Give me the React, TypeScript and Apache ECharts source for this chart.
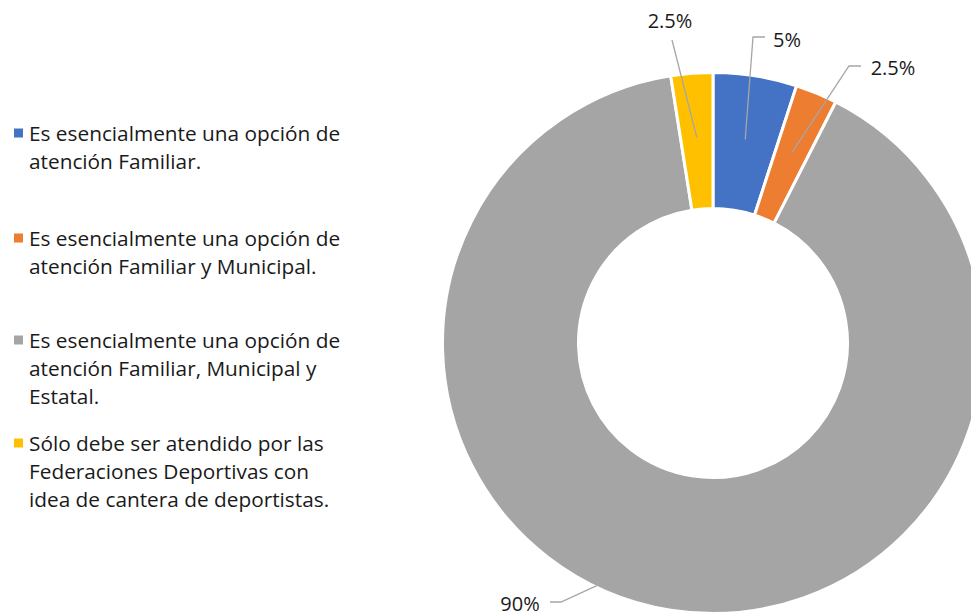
import React, { useEffect, useRef } from "react";
import * as echarts from "echarts";

// ---- data ----
const categories = [
  "Es esencialmente una opción de atención Familiar.",
  "Es esencialmente una opción de atención Familiar y Municipal.",
  "Es esencialmente una opción de atención Familiar, Municipal y Estatal.",
  "Sólo debe ser atendido por las Federaciones Deportivas con idea de cantera de deportistas.",
];
const values = [5, 2.5, 90, 2.5];
const valueLabels = ["5%", "2.5%", "90%", "2.5%"];
const legendLines = [
  ["Es esencialmente una opción de", "atención Familiar."],
  ["Es esencialmente una opción de", "atención Familiar y Municipal."],
  ["Es esencialmente una opción de", "atención Familiar, Municipal y", "Estatal."],
  ["Sólo debe ser atendido por las", "Federaciones Deportivas con", "idea de cantera de deportistas."],
];

// ---- styles / layout ----
const colors = ["#4472C4", "#ED7D31", "#A5A5A5", "#FFC000"];
const FONT = "Open Sans";
const CENTER = [713, 343];
const R_OUT = 270.5;
const R_IN = 134.5;
const legendTops = [119, 224, 326, 429];
const labelPos = [
  [787, 39],
  [893, 67],
  [520, 603],
  [670, 20],
];
const lineBend = [
  [753, 37],
  [849, 66],
  [561, 602],
  [672, 40],
];
const lineEnd = [
  [765, 37],
  [861, 66],
  [550, 602],
  [672, 40],
];
const lineStartR = [206, 206, 269, 206];
const lineStartAngleOverride: (number | null)[] = [null, null, 205.6, null];

function midAngleDeg(i: number): number {
  const total = values.reduce((a, b) => a + b, 0);
  let cum = 0;
  for (let k = 0; k < i; k++) cum += values[k];
  return ((cum + values[i] / 2) / total) * 360;
}

export default function App() {
  const ref = useRef<HTMLDivElement>(null);
  useEffect(() => {
    if (!ref.current) return;
    const chart = echarts.init(ref.current, undefined, { renderer: "svg" });
    const rich: any = {
      g: { width: 6, lineHeight: 28 },
      ind: { width: 15, lineHeight: 28 },
      t: { fontSize: 20.8, fontFamily: FONT, color: "#1a1a1a", lineHeight: 28 },
    };
    colors.forEach((c, i) => {
      rich["m" + i] = { width: 9, height: 9, backgroundColor: c, lineHeight: 28 };
    });
    const pieData = categories.map((name, i) => ({ name, value: values[i] }));
    const option: any = {
      animation: false,
      color: colors,
      textStyle: { fontFamily: FONT },
      legend: legendLines.map((lines, i) => ({
        data: [categories[i]],
        left: 8,
        top: legendTops[i],
        orient: "vertical",
        padding: 0,
        itemWidth: 0,
        itemHeight: 0,
        selectedMode: false,
        formatter: () =>
          lines
            .map((l, j) => (j === 0 ? `{m${i}|}{g|}{t|${l}}` : `{ind|}{t|${l}}`))
            .join("\n"),
        textStyle: { fontSize: 20.8, fontFamily: FONT, lineHeight: 28, rich },
      })),
      series: [
        {
          type: "pie",
          center: CENTER,
          radius: [R_IN, R_OUT],
          startAngle: 90,
          clockwise: true,
          z: 2,
          itemStyle: { borderColor: "#ffffff", borderWidth: 3 },
          emphasis: { disabled: true },
          data: pieData,
          label: { show: false },
          labelLine: { show: false },
        },
        {
          // overlay carrying data labels and leader lines above the ring
          type: "pie",
          center: CENTER,
          radius: [R_IN, R_OUT],
          startAngle: 90,
          clockwise: true,
          z: 5,
          silent: true,
          avoidLabelOverlap: false,
          itemStyle: { color: "rgba(0,0,0,0)", borderWidth: 0 },
          emphasis: { disabled: true },
          data: pieData,
          label: {
            show: true,
            position: "outside",
            formatter: (p: any) => valueLabels[p.dataIndex],
            fontSize: 20,
            fontFamily: FONT,
            color: "#1a1a1a",
          },
          labelLine: {
            show: true,
            showAbove: true,
            length: 10,
            length2: 10,
            lineStyle: { color: "#A6A6A6", width: 1.3 },
          },
          labelLayout: (params: any) => {
            const i = params.dataIndex;
            const ang =
              ((lineStartAngleOverride[i] ?? midAngleDeg(i)) * Math.PI) / 180;
            const r = lineStartR[i];
            const start = [CENTER[0] + r * Math.sin(ang), CENTER[1] - r * Math.cos(ang)];
            return {
              x: labelPos[i][0],
              y: labelPos[i][1],
              align: "center",
              verticalAlign: "middle",
              labelLinePoints: [start, lineBend[i], lineEnd[i]],
            };
          },
        },
      ],
    };
    chart.setOption(option);
    return () => chart.dispose();
  }, []);
  return (
    <div
      ref={ref}
      style={{ position: "fixed", left: 0, top: 0, width: 971, height: 615, background: "#fff" }}
    />
  );
}
